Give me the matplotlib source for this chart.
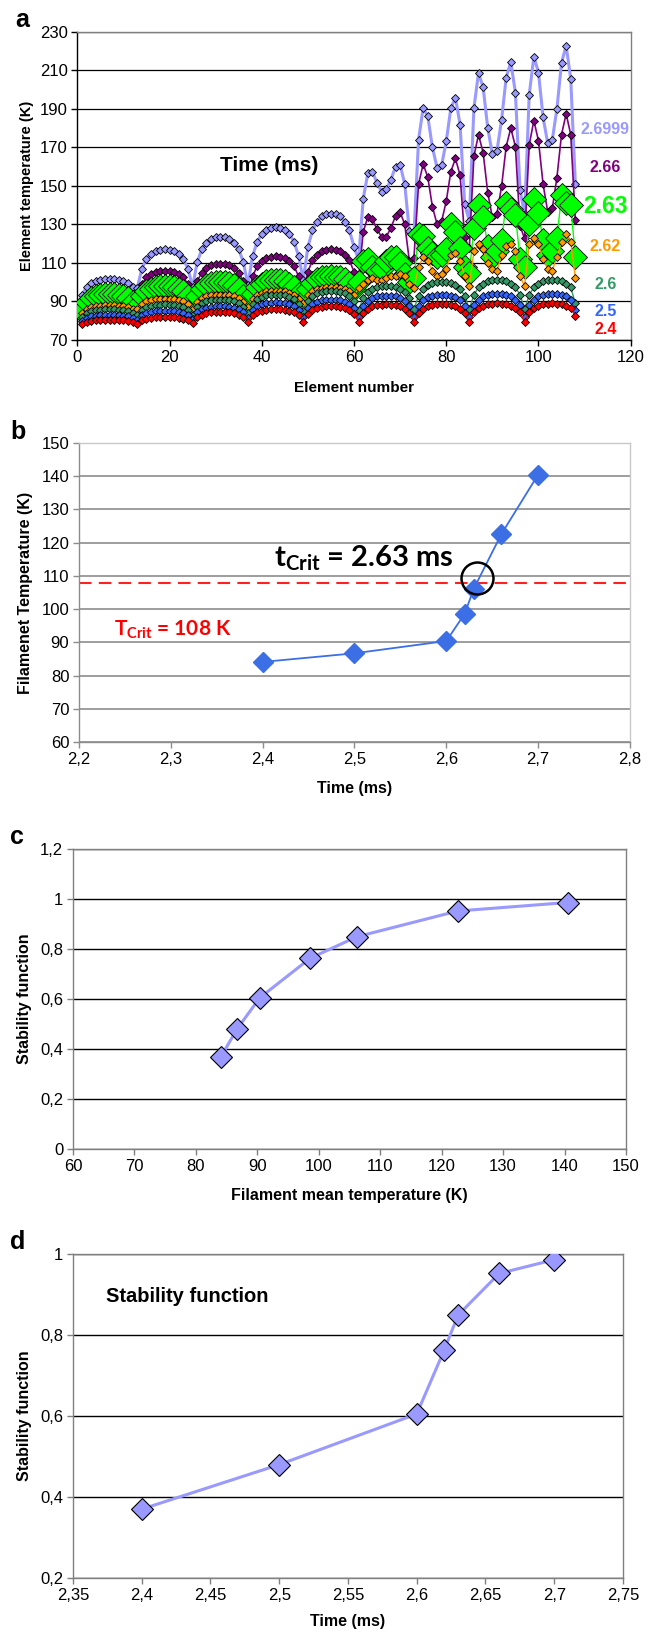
#!/usr/bin/env python3
import matplotlib
matplotlib.use("Agg")
import matplotlib.pyplot as plt
import numpy as np
from matplotlib import font_manager
from matplotlib.ticker import FuncFormatter


# ---- panel a: element temperature (K) along the filament, one list per time (ms)
ELEMENTS = list(range(1, 109))

T_2_4 = [
    78.5, 79.5, 80.0, 80.3, 80.4, 80.5, 80.5, 80.5, 80.4, 80.3, 80.0, 79.5,
    78.5, 80.3, 81.1, 81.6, 81.9, 82.0, 82.0, 82.0, 81.9, 81.6, 81.1, 80.3,
    79.0, 81.8, 83.1, 83.8, 84.3, 84.4, 84.5, 84.4, 84.3, 83.8, 83.1, 81.8,
    79.5, 82.8, 84.4, 85.2, 85.7, 85.9, 86.0, 85.9, 85.7, 85.2, 84.4, 82.8,
    79.5, 83.5, 85.5, 86.5, 87.2, 87.4, 87.5, 87.4, 87.2, 86.5, 85.5, 83.5,
    79.5, 84.0, 86.3, 87.4, 88.1, 88.4, 88.5, 88.4, 88.1, 87.4, 86.3, 84.0,
    79.5, 84.1, 86.3, 87.5, 88.2, 88.5, 88.6, 88.5, 88.2, 87.5, 86.3, 84.1,
    79.5, 84.3, 86.6, 87.9, 88.6, 88.9, 89.0, 88.9, 88.6, 87.9, 86.6, 84.3,
    79.5, 84.3, 86.7, 87.9, 88.6, 88.9, 89.1, 88.9, 88.6, 87.9, 86.7, 82.5,
]
T_2_5 = [
    80.0, 81.5, 82.3, 82.6, 82.9, 83.0, 83.0, 83.0, 82.9, 82.6, 82.3, 81.5,
    80.5, 82.8, 83.9, 84.5, 84.8, 85.0, 85.0, 85.0, 84.8, 84.5, 83.9, 82.8,
    81.0, 84.3, 85.9, 86.7, 87.2, 87.4, 87.5, 87.4, 87.2, 86.7, 85.9, 84.3,
    81.5, 85.5, 87.5, 88.5, 89.2, 89.4, 89.5, 89.4, 89.2, 88.5, 87.5, 85.5,
    82.0, 86.5, 88.8, 89.9, 90.6, 90.9, 91.0, 90.9, 90.6, 89.9, 88.8, 86.5,
    82.0, 87.5, 90.3, 91.7, 92.6, 92.9, 93.0, 92.9, 92.6, 91.7, 90.3, 87.5,
    82.0, 87.8, 90.6, 92.1, 93.0, 93.4, 93.5, 93.4, 93.0, 92.1, 90.6, 87.8,
    82.0, 88.0, 91.0, 92.6, 93.5, 93.9, 94.0, 93.9, 93.5, 92.6, 91.0, 88.0,
    82.0, 88.0, 91.0, 92.6, 93.5, 93.9, 94.1, 93.9, 93.5, 92.6, 91.0, 85.5,
]
T_2_6 = [
    82.0, 84.0, 85.0, 85.5, 85.8, 86.0, 86.0, 86.0, 85.8, 85.5, 85.0, 84.0,
    83.0, 85.8, 87.1, 87.8, 88.3, 88.4, 88.5, 88.4, 88.3, 87.8, 87.1, 85.8,
    83.0, 87.0, 89.0, 90.0, 90.7, 90.9, 91.0, 90.9, 90.7, 90.0, 89.0, 87.0,
    84.0, 88.8, 91.1, 92.4, 93.1, 93.4, 93.5, 93.4, 93.1, 92.4, 91.1, 88.8,
    85.0, 90.3, 92.9, 94.2, 95.1, 95.4, 95.5, 95.4, 95.1, 94.2, 92.9, 90.3,
    85.5, 91.8, 94.9, 96.5, 97.5, 97.9, 98.0, 97.9, 97.5, 96.5, 94.9, 91.8,
    86.0, 93.0, 96.5, 98.3, 99.4, 99.9, 100.0, 99.9, 99.4, 98.3, 96.5, 93.0,
    86.0, 93.5, 97.3, 99.2, 100.4, 100.9, 101.0, 100.9, 100.4, 99.2, 97.3, 93.5,
    86.0, 93.5, 97.3, 99.2, 100.4, 100.9, 101.1, 100.9, 100.4, 99.2, 97.3, 89.0,
]
T_2_62 = [
    84.0, 86.0, 87.0, 87.5, 87.8, 88.0, 88.0, 88.0, 87.8, 87.5, 87.0, 86.0,
    86.0, 88.8, 90.1, 90.8, 91.3, 91.4, 91.5, 91.4, 91.3, 90.8, 90.1, 88.8,
    86.0, 89.8, 91.6, 92.6, 93.2, 93.4, 93.5, 93.4, 93.2, 92.6, 91.6, 89.8,
    87.0, 91.3, 93.4, 94.5, 95.2, 95.4, 95.5, 95.4, 95.2, 94.5, 93.4, 91.3,
    89.0, 93.3, 95.4, 96.5, 97.2, 97.4, 97.5, 97.4, 97.2, 96.5, 95.4, 93.3,
    97, 99, 101, 102, 101, 101, 102, 103, 103, 104,
    103, 99, 97, 108, 113, 111, 106, 103, 104, 107,
    114, 115, 111, 103, 98, 116, 120, 117, 110, 107,
    106, 114, 119, 120, 116, 103, 98, 120, 123, 120,
    112, 107, 106, 113, 121, 125, 121, 102,
]
T_2_63 = [
    85.0, 89.5, 91.8, 92.9, 93.6, 93.9, 94.0, 93.9, 93.6, 92.9, 91.8, 89.5,
    87.5, 92.8, 95.4, 96.7, 97.6, 97.9, 98.0, 97.9, 97.6, 96.7, 95.4, 92.8,
    86.0, 93.0, 96.5, 98.3, 99.4, 99.9, 100.0, 99.9, 99.4, 98.3, 96.5, 93.0,
    87.0, 94.0, 97.5, 99.3, 100.4, 100.9, 101.0, 100.9, 100.4, 99.3, 97.5, 94.0,
    90.0, 96.5, 99.8, 101.4, 102.5, 102.9, 103.0, 102.9, 102.5, 101.4, 99.8, 96.5,
    100, 111, 112, 108, 106, 107, 111, 113, 113, 110,
    104, 100, 102, 125, 124, 118, 115, 113, 114, 117,
    130, 126, 118, 108, 105, 128, 140, 134, 119, 113,
    116, 122, 141, 138, 135, 112, 108, 130, 143, 136,
    122, 114, 116, 123, 145, 141, 140, 113,
]
T_2_66 = [
    89.0, 91.8, 93.1, 93.8, 94.3, 94.4, 94.5, 94.4, 94.3, 93.8, 93.1, 91.8,
    92.0, 99.0, 102.5, 104.3, 105.4, 105.9, 106.0, 105.9, 105.4, 104.3, 102.5, 99.0,
    91.5, 100.5, 105.0, 107.3, 108.8, 109.3, 109.5, 109.3, 108.8, 107.3, 105.0, 100.5,
    92.5, 103.0, 108.3, 111.0, 112.7, 113.3, 113.5, 113.3, 112.7, 111.0, 108.3, 103.0,
    94.0, 105.5, 111.3, 114.2, 116.1, 116.8, 117.0, 116.8, 116.1, 114.2, 111.3, 105.5,
    102.0, 126.0, 134.0, 132.6, 127.4, 123.4, 123.5, 128.2, 134.3, 136.4,
    130.0, 111.2, 112.6, 150.9, 161.3, 154.5, 139.2, 130.2, 131.6, 142.0,
    157.4, 164.2, 155.5, 123.2, 117.6, 165.4, 176.5, 167.3, 146.5, 133.6,
    135.6, 149.7, 170.4, 180.0, 170.4, 129.1, 122.7, 171.3, 183.9, 173.4,
    150.9, 136.6, 138.3, 154.3, 176.6, 187.4, 176.6, 132.2,
]
T_2_6999 = [
    93.5, 97.5, 99.5, 100.5, 101.2, 101.4, 101.5, 101.4, 101.2, 100.5, 99.5, 97.5,
    97.0, 107.0, 112.0, 114.6, 116.2, 116.8, 117.0, 116.8, 116.2, 114.6, 112.0, 107.0,
    97.5, 110.5, 117.0, 120.4, 122.5, 123.2, 123.5, 123.2, 122.5, 120.4, 117.0, 110.5,
    98.5, 113.5, 121.0, 124.9, 127.3, 128.2, 128.5, 128.2, 127.3, 124.9, 121.0, 113.5,
    101.0, 118.3, 126.9, 131.4, 134.1, 135.2, 135.5, 135.2, 134.1, 131.4, 126.9, 118.3,
    111.7, 143.3, 156.6, 157.4, 151.4, 147.0, 148.2, 153.1, 160.0, 161.0,
    150.9, 126.5, 124.8, 174.0, 190.5, 186.0, 170.0, 159.5, 160.7, 173.1,
    190.3, 195.7, 181.8, 140.4, 132.0, 190.3, 208.6, 201.2, 180.0, 166.5,
    168.2, 184.2, 206.2, 214.3, 198.3, 147.9, 135.2, 197.4, 217.1, 208.8,
    185.6, 172.2, 173.9, 190.0, 213.8, 222.8, 205.4, 150.9,
]

# ---- panels b-d: filament mean temperature and stability function vs time
TIMES_MS = [2.4, 2.5, 2.6, 2.62, 2.63, 2.66, 2.7]
FILAMENT_T = [84.1, 86.7, 90.4, 98.6, 106.2, 122.6, 140.5]
STABILITY = [0.37, 0.48, 0.605, 0.763, 0.849, 0.952, 0.986]
T_CRIT = 108
T_CRIT_TIME = 2.633
T_CRIT_MARK = 109.3


def pick_font(*names):
    for name in names:
        try:
            font_manager.findfont(name, fallback_to_default=False)
            return name
        except ValueError:
            continue
    return "DejaVu Sans"


SANS = pick_font("Liberation Sans", "Arial")
CAL = pick_font("Lato", "Open Sans", "Liberation Sans")

plt.rcParams["font.family"] = [SANS, "DejaVu Sans"]
plt.rcParams["mathtext.fontset"] = "custom"
plt.rcParams["mathtext.rm"] = CAL
plt.rcParams["mathtext.bf"] = f"{CAL}:bold"


def comma(v, _pos=None):
    s = f"{v:.2f}".rstrip("0").rstrip(".")
    return s.replace(".", ",")


def frame(ax, left="#808080", other="#808080", lw=1.0):
    ax.spines["left"].set_color(left)
    ax.spines["bottom"].set_color(left)
    ax.spines["top"].set_color(other)
    ax.spines["right"].set_color(other)
    for s in ax.spines.values():
        s.set_linewidth(lw)
    ax.tick_params(direction="out", length=4, width=1, color=left, pad=3)
    ax.set_axisbelow(True)


def main() -> int:
    W, H = 657, 1636
    fig = plt.figure(figsize=(W / 100, H / 100), dpi=100)

    def rect(x0, y0, x1, y1):
        return [x0 / W, 1 - y1 / H, (x1 - x0) / W, (y1 - y0) / H]

    # ---------------- a
    ax = fig.add_axes(rect(77.3, 31.7, 630.7, 340))
    series = [
        ("2.6999", T_2_6999, "#9999FF", 2.2, 4.2, 1),
        ("2.66", T_2_66, "#800080", 1.2, 4.2, 2),
        ("2.63", T_2_63, "#00FF00", 1.0, 12.5, 3),
        ("2.62", T_2_62, "#FF9900", 1.0, 3.8, 4),
        ("2.6", T_2_6, "#339966", 1.0, 3.6, 5),
        ("2.5", T_2_5, "#3366FF", 1.0, 3.6, 6),
        ("2.4", T_2_4, "#FF0000", 1.0, 3.6, 7),
    ]
    for label, vals, color, lw, ms, z in series:
        ax.plot(ELEMENTS, vals, color=color, lw=lw, marker="D", ms=ms,
                mfc=color, mec="black", mew=0.6, zorder=z)
    label_pos = {"2.6999": (179.2, 11.5), "2.66": (159.5, 11.5), "2.63": (139.5, 16.5),
                 "2.62": (118.3, 11.5), "2.6": (98.7, 11.5), "2.5": (84.8, 11.5),
                 "2.4": (75.5, 11.5)}
    for label, vals, color, *_ in series:
        y, size = label_pos[label]
        ax.text(114.5, y, label, color=color, fontsize=size, fontweight="bold",
                ha="center", va="center", clip_on=False)
    ax.text(31, 160.4, "Time (ms)", fontsize=15, fontweight="bold", va="center")
    ax.set_xlim(0, 120)
    ax.set_ylim(70, 230)
    ax.set_xticks(range(0, 121, 20))
    ax.set_yticks(range(70, 231, 20))
    ax.yaxis.grid(True, color="black", lw=0.9)
    frame(ax, left="black", other="#808080")
    ax.tick_params(labelsize=12)
    ax.set_xlabel("Element number", fontsize=11, fontweight="bold", labelpad=12)
    ax.set_ylabel("Element temperature (K)", fontsize=10.5, fontweight="bold", labelpad=4)
    fig.text(22 / W, 1 - 20 / H, "a", fontsize=18, fontweight="bold", ha="center", va="center")

    # ---------------- b
    bx = fig.add_axes(rect(79, 443, 630, 742))
    blue = "#3C6EE6"
    bx.plot(TIMES_MS, FILAMENT_T, color=blue, lw=1.3, marker="D", ms=10, mfc=blue, mec=blue, zorder=3)
    bx.axhline(T_CRIT, color="#FF2020", lw=1.5, dashes=(6, 3.5), zorder=2)
    bx.plot(T_CRIT_TIME, T_CRIT_MARK, "o", ms=23, mfc="none", mec="black", mew=1.8, zorder=4)
    bx.text(2.412, 113.0, r"t$_{\mathbf{Crit}}$ = 2.63 ms", fontsize=21, fontweight="bold",
            family=CAL, color="black", va="baseline")
    bx.text(2.238, 92.2, r"T$_{\mathbf{Crit}}$ = 108 K", fontsize=15, fontweight="bold",
            family=CAL, color="#FF0000", va="baseline")
    bx.set_xlim(2.2, 2.8)
    bx.set_ylim(60, 150)
    bx.set_xticks(np.arange(2.2, 2.81, 0.1))
    bx.set_yticks(range(60, 151, 10))
    bx.xaxis.set_major_formatter(FuncFormatter(comma))
    bx.yaxis.grid(True, color="#8C8C8C", lw=1.2)
    frame(bx, left="#8C8C8C", other="#C8C8C8")
    bx.tick_params(labelsize=12)
    bx.set_xlabel("Time (ms)", fontsize=11.5, fontweight="bold", labelpad=10)
    bx.set_ylabel("Filamenet Temperature (K)", fontsize=11.5, fontweight="bold", labelpad=6)
    fig.text(18 / W, 1 - 432 / H, "b", fontsize=18, fontweight="bold", ha="center", va="center")

    # ---------------- c
    lav = "#9999FF"
    cx = fig.add_axes(rect(73, 849, 626, 1149))
    cx.plot(FILAMENT_T, STABILITY, color=lav, lw=2.2, marker="D", ms=11.5, mfc=lav,
            mec="black", mew=0.8, zorder=3)
    cx.set_xlim(60, 150)
    cx.set_ylim(0, 1.2)
    cx.set_xticks(range(60, 151, 10))
    cx.set_yticks(np.arange(0, 1.21, 0.2))
    cx.yaxis.set_major_formatter(FuncFormatter(comma))
    cx.yaxis.grid(True, color="black", lw=1.0)
    frame(cx)
    cx.tick_params(labelsize=12)
    cx.set_xlabel("Filament mean temperature (K)", fontsize=11.5, fontweight="bold", labelpad=10)
    cx.set_ylabel("Stability function", fontsize=11.5, fontweight="bold", labelpad=6)
    fig.text(17 / W, 1 - 837 / H, "c", fontsize=18, fontweight="bold", ha="center", va="center")

    # ---------------- d
    dx = fig.add_axes(rect(73, 1254, 623, 1578))
    dx.plot(TIMES_MS, STABILITY, color=lav, lw=2.2, marker="D", ms=11.5, mfc=lav,
            mec="black", mew=0.8, zorder=3)
    dx.text(2.374, 0.895, "Stability function", fontsize=14.5, fontweight="bold", va="center")
    dx.set_xlim(2.35, 2.75)
    dx.set_ylim(0.2, 1.0)
    dx.set_xticks(np.arange(2.35, 2.751, 0.05))
    dx.set_yticks(np.arange(0.2, 1.01, 0.2))
    dx.xaxis.set_major_formatter(FuncFormatter(comma))
    dx.yaxis.set_major_formatter(FuncFormatter(comma))
    dx.yaxis.grid(True, color="black", lw=1.0)
    frame(dx)
    dx.tick_params(labelsize=12)
    dx.set_xlabel("Time (ms)", fontsize=11.5, fontweight="bold", labelpad=8)
    dx.set_ylabel("Stability function", fontsize=11.5, fontweight="bold", labelpad=6)
    fig.text(18 / W, 1 - 1242 / H, "d", fontsize=18, fontweight="bold", ha="center", va="center")

    fig.savefig("out.png", dpi=100)
    return 0


if __name__ == "__main__":
    raise SystemExit(main())
